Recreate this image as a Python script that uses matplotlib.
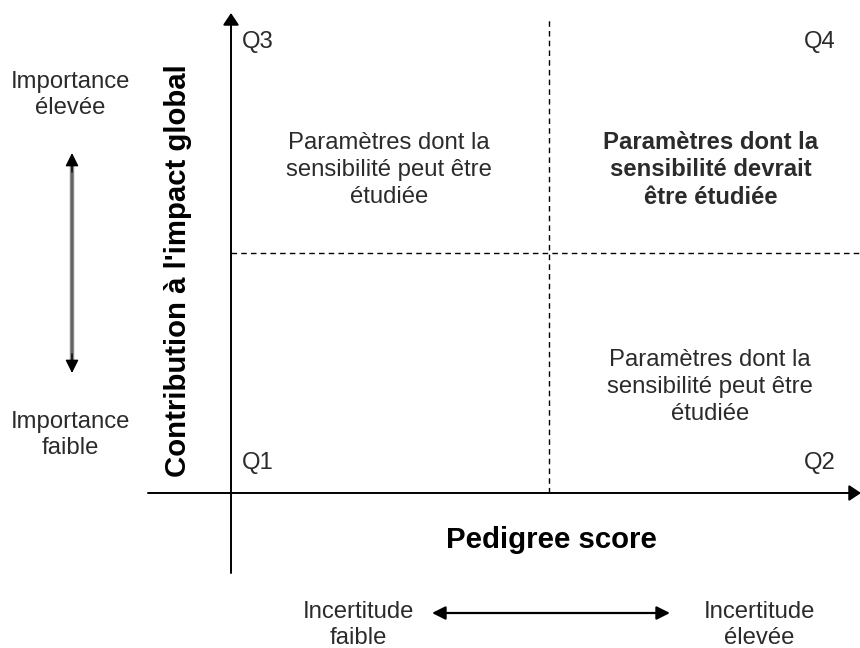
import matplotlib.pyplot as plt

plt.rcParams['font.family'] = ['Liberation Sans', 'DejaVu Sans']

# quadrant chart: pedigree score (x) vs contribution to global impact (y), both 0..1
quadrants = ["Q1", "Q2", "Q3", "Q4"]
threshold_x = 0.5
threshold_y = 0.5
x_label = "Pedigree score"
y_label = "Contribution à l'impact global"
text_mid = "Paramètres dont la\nsensibilité peut être\nétudiée"
text_high = "Paramètres dont la\nsensibilité devrait\nêtre étudiée"
y_ends = ["Importance\nfaible", "Importance\nélevée"]
x_ends = ["Incertitude\nfaible", "Incertitude\nélevée"]

# pixel -> data conversion (origin at px 231,493; unit 636 px wide, 480 px high)
ox, oy, ux, uy = 231, 493, 636, 480
def px(x):
    return (x - ox) / ux
def py(y):
    return (oy - y) / uy

fig = plt.figure(figsize=(8.6, 6.48), dpi=100)
ax = fig.add_axes([0, 0, 1, 1])
ax.set_xlim(px(0), px(860))
ax.set_ylim(py(648), py(0))
ax.axis('off')

txt = '#2b2b2b'
axis_arrow = dict(arrowstyle='-|>,head_length=0.45,head_width=0.3', color='black', lw=1.4,
                  mutation_scale=16, shrinkA=0, shrinkB=0)

# main axes
ax.annotate("", xy=(px(861), 0), xytext=(px(148), 0), arrowprops=axis_arrow, annotation_clip=False)
ax.annotate("", xy=(0, py(13)), xytext=(0, py(573)), arrowprops=axis_arrow, annotation_clip=False)

# threshold lines
ax.plot([threshold_x, threshold_x], [0, py(18)], color='black', lw=1, ls=(0, (4, 3)))
ax.plot([0, px(860)], [threshold_y, threshold_y], color='black', lw=1, ls=(0, (4, 3)))

# quadrant labels
fs = 17.2
ax.text(px(242), py(463), quadrants[0], fontsize=fs, color=txt, ha='left', va='center')
ax.text(px(836), py(463), quadrants[1], fontsize=fs, color=txt, ha='right', va='center')
ax.text(px(242), py(42), quadrants[2], fontsize=fs, color=txt, ha='left', va='center')
ax.text(px(836), py(42), quadrants[3], fontsize=fs, color=txt, ha='right', va='center')

# quadrant descriptions
ax.text(px(389), py(170), text_mid, fontsize=fs, color=txt, ha='center', va='center', linespacing=1.27)
ax.text(px(710), py(387), text_mid, fontsize=fs, color=txt, ha='center', va='center', linespacing=1.27)
ax.text(px(711), py(170), text_high, fontsize=fs, color=txt, ha='center', va='center',
        linespacing=1.27, fontweight='bold')

# axis titles
ax.text(px(551), py(540), x_label, fontsize=21.2, fontweight='bold', color='black', ha='center', va='center')
ax.text(px(178), py(271), y_label, fontsize=21.2, fontweight='bold', color='black', ha='center', va='center',
        rotation=90)

# side annotations (vertical)
ax.text(px(70), py(95), y_ends[1], fontsize=fs, color=txt, ha='center', va='center', linespacing=1.22)
ax.text(px(70), py(435), y_ends[0], fontsize=fs, color=txt, ha='center', va='center', linespacing=1.22)
ax.plot([px(72), px(72)], [py(165), py(361)], color='#8a8a8a', lw=3.2, solid_capstyle='butt')
ax.plot([px(72), px(72)], [py(165), py(361)], color='#5a5a5a', lw=1.2, solid_capstyle='butt')
head = dict(arrowstyle='-|>', color='black', lw=1, mutation_scale=20, shrinkA=0, shrinkB=0)
ax.annotate("", xy=(px(72), py(153)), xytext=(px(72), py(172)), arrowprops=head)
ax.annotate("", xy=(px(72), py(373)), xytext=(px(72), py(354)), arrowprops=head)

# side annotations (horizontal)
ax.text(px(358), py(625), x_ends[0], fontsize=fs, color=txt, ha='center', va='center', linespacing=1.22)
ax.text(px(759), py(625), x_ends[1], fontsize=fs, color=txt, ha='center', va='center', linespacing=1.22)
ax.annotate("", xy=(px(432), py(613)), xytext=(px(670), py(613)),
            arrowprops=dict(arrowstyle='<|-|>', color='black', lw=1.6, mutation_scale=20, shrinkA=0, shrinkB=0))

fig.savefig('out.png', dpi=100, facecolor='white')
